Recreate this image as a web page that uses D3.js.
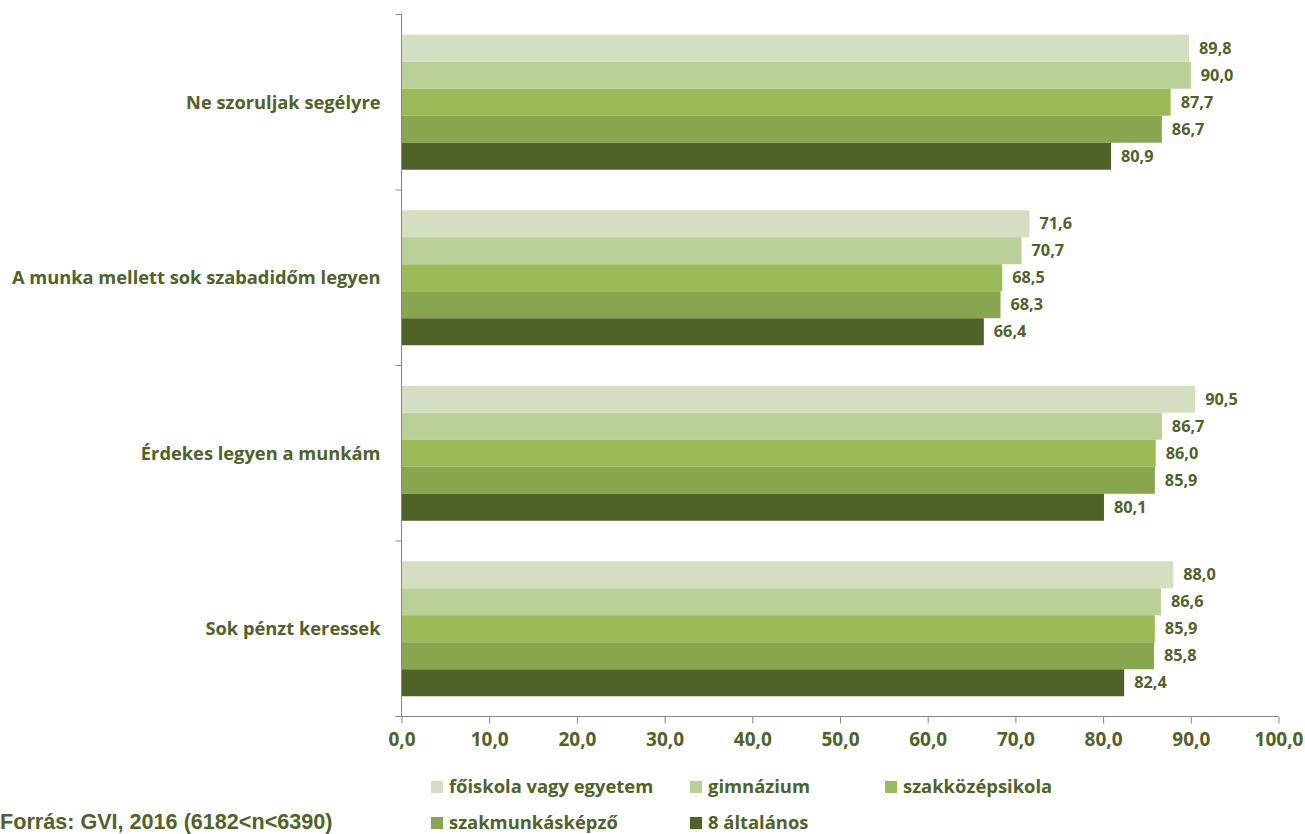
<!DOCTYPE html>
<html><head><meta charset="utf-8">
<script src="https://cdn.jsdelivr.net/npm/d3@7"></script>
<style>body{margin:0;background:#fff;overflow:hidden}svg{display:block}</style>
</head><body>
<script>
const categories = ["Ne szoruljak segélyre","A munka mellett sok szabadidőm legyen","Érdekes legyen a munkám","Sok pénzt keressek"];
const seriesNames = ["főiskola vagy egyetem","gimnázium","szakközépsikola","szakmunkásképző","8 általános"];
const fokiskola = [89.8,71.6,90.5,88.0];
const gimnazium = [90.0,70.7,86.7,86.6];
const szakkozep = [87.7,68.5,86.0,85.9];
const szakmunkas = [86.7,68.3,85.9,85.8];
const altalanos = [80.9,66.4,80.1,82.4];
const xTicks = [0,10,20,30,40,50,60,70,80,90,100];
const colors = ["#d3dfc0","#bbcf98","#9bbb59","#88a550","#4f6228"];
const seriesValues = [fokiskola,gimnazium,szakkozep,szakmunkas,altalanos];

const W=1305,H=834;
const font = "'Open Sans', Lato, sans-serif";
const txt = "#4f6228";
const svg = d3.select("body").append("svg").attr("width",W).attr("height",H);
const x = d3.scaleLinear().domain([0,100]).range([401.5,1278.5]);
const y = d3.scaleBand().domain(categories).range([14.5,716.5]).paddingInner(0).paddingOuter(0);
const inner = d3.scaleBand().domain(seriesNames).range([0,y.bandwidth()]).paddingOuter(0.75).paddingInner(0);
const fmt = v => d3.format(".1f")(v).replace(".",",");

// bars
categories.forEach((c,ci)=>{
  const g = svg.append("g").attr("transform",`translate(0,${y(c)})`);
  seriesNames.forEach((s,si)=>{
    const v = seriesValues[si][ci];
    g.append("rect").attr("x",x(0)).attr("y",inner(s)).attr("width",x(v)-x(0)).attr("height",inner.bandwidth()).attr("fill",colors[si]);
    g.append("text").attr("x",x(v)+10).attr("y",inner(s)+inner.bandwidth()/2).attr("dy","0.35em")
      .attr("font-family",font).attr("font-weight","bold").attr("font-size",16.3).attr("fill",txt).text(fmt(v));
  });
});

// x axis
const xa = svg.append("g").attr("transform",`translate(0,716.5)`)
  .call(d3.axisBottom(x).tickValues(xTicks).tickSize(7).tickPadding(9).tickFormat(fmt));
xa.select(".domain").attr("stroke","#868686").attr("d",`M${x(0)},0H${x(100)}`);
xa.selectAll(".tick line").attr("stroke","#868686");
xa.selectAll("text").attr("font-family",font).attr("font-weight","bold").attr("font-size",19).attr("fill",txt);

// y axis
const ya = svg.append("g").attr("transform",`translate(401.5,0)`)
  .call(d3.axisLeft(y).tickValues([]).tickSize(0));
ya.select(".domain").attr("stroke","#868686").attr("d",`M0,14.5V716.5`);
const bounds = [14.5].concat(categories.map(c=>y(c)+y.bandwidth()));
ya.selectAll(".bt").data(bounds).enter().append("line").attr("x1",-6).attr("x2",0).attr("y1",d=>d).attr("y2",d=>d).attr("stroke","#868686");
ya.selectAll(".lbl").data(categories).enter().append("text")
  .attr("x",-21).attr("y",d=>y(d)+y.bandwidth()/2).attr("dy","0.35em").attr("text-anchor","end")
  .attr("font-family",font).attr("font-weight","bold").attr("font-size",18.3).attr("fill",txt).text(d=>d);

// legend
const legPos = [[431,787],[690,787],[885,787],[431,823],[690,823]];
seriesNames.forEach((s,i)=>{
  const [lx,ly]=legPos[i];
  svg.append("rect").attr("x",lx).attr("y",ly-6).attr("width",12).attr("height",12).attr("fill",colors[i]);
  svg.append("text").attr("x",lx+18).attr("y",ly).attr("dy","0.35em")
    .attr("font-family",font).attr("font-weight","bold").attr("font-size",18.4).attr("fill",txt).text(s);
});

// source
svg.append("text").attr("x",0).attr("y",829).attr("font-family","'Liberation Sans', Arial, sans-serif")
  .attr("font-weight","bold").attr("font-size",21.6).attr("fill",txt).text("Forrás: GVI, 2016 (6182<n<6390)");
</script>
</body></html>
